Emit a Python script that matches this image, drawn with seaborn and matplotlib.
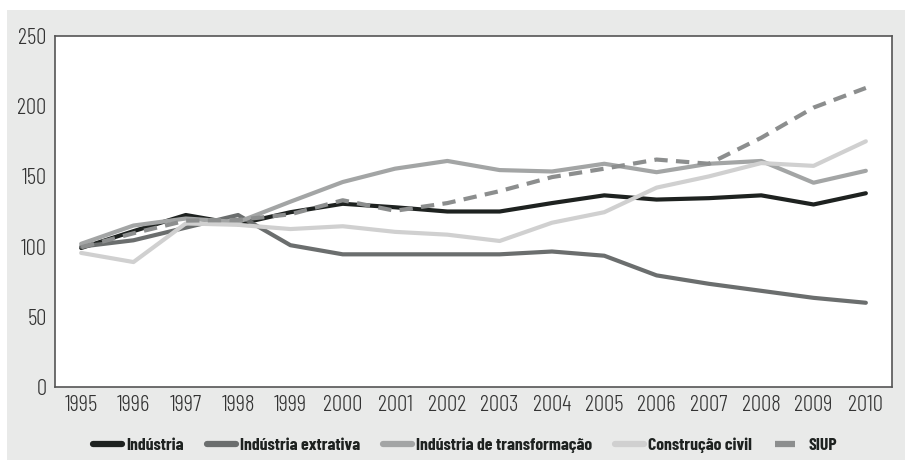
import matplotlib
matplotlib.use("Agg")
import matplotlib.pyplot as plt
from matplotlib import font_manager
from matplotlib.patches import Rectangle
import seaborn as sns
import pandas as pd

anos = list(range(1995, 2011))
industria = [99, 111, 122.5, 116, 124.5, 130.5, 128, 125, 125, 131, 136.5, 133.5, 134.5, 136.5, 130, 138]
extrativa = [100, 104.5, 113.5, 122.5, 101, 94.5, 94.5, 94.5, 94.5, 96.5, 93.5, 79.5, 73.5, 68.5, 63.5, 60]
transformacao = [102, 115, 120, 117.5, 132, 146, 155.5, 161, 154.5, 153.5, 159, 153, 159, 161, 145.5, 154]
construcao = [95.5, 89, 116.5, 115.5, 112.5, 114.5, 110.5, 108.5, 104, 117, 124.5, 142, 150, 159.5, 157.5, 175]
siup = [99.5, 109.5, 118.5, 119, 123, 133, 125.5, 131, 139.5, 149.5, 155.5, 162, 159, 177.5, 199, 213]

series = ["Indústria", "Indústria extrativa", "Indústria de transformação", "Construção civil", "SIUP"]
valores = [industria, extrativa, transformacao, construcao, siup]
yticks = [0, 50, 100, 150, 200, 250]

cores = ["#1e2220", "#6b6e6e", "#a3a5a5", "#d0d0d0", "#8c8e8e"]

names = {f.name for f in font_manager.fontManager.ttflist}
fam = next((f for f in ["Barlow Condensed", "Asap Condensed", "Archivo Narrow"] if f in names), "DejaVu Sans")
leg_size = 12.8

sns.set_theme(style="white")
plt.rcParams["font.family"] = [fam, "DejaVu Sans"]

df = pd.DataFrame({"ano": anos})
for s, v in zip(series, valores):
    df[s] = v
long = df.melt(id_vars="ano", var_name="serie", value_name="valor")

fig = plt.figure(figsize=(9.05, 4.66), dpi=100)
fig.patch.set_facecolor("white")
W, H = 905, 466
fig.patches.append(Rectangle((7 / W, 1 - 460 / H), 1, (460 - 10) / H,
                             transform=fig.transFigure, facecolor="#e9eae9",
                             edgecolor="none", zorder=-10))
ax = fig.add_axes([55 / W, 1 - 387 / H, (892 - 55) / W, (387 - 36) / H])
ax.set_facecolor("white")

dashes = {s: "" for s in series}
dashes["SIUP"] = (3.2, 2.0)
sns.lineplot(data=long, x="ano", y="valor", hue="serie", style="serie",
             hue_order=series, style_order=series,
             palette=dict(zip(series, cores)), dashes=dashes,
             linewidth=3.0, ax=ax, legend=True)

ax.set_xlim(1994.5, 2010.5)
ax.set_ylim(0, 250)
ax.set_xticks(anos)
ax.set_xticklabels([str(a) for a in anos])
ax.set_yticks(yticks)
ax.set_xlabel("")
ax.set_ylabel("")
ax.tick_params(axis="both", length=0, labelsize=16.5, colors="#333333")
ax.tick_params(axis="x", pad=6)
ax.tick_params(axis="y", pad=6)
for lab in ax.get_xticklabels() + ax.get_yticklabels():
    lab.set_fontweight(300)
for sp in ax.spines.values():
    sp.set_visible(True)
    sp.set_color("#555555")
    sp.set_linewidth(1.2)

h, l = ax.get_legend_handles_labels()
ax.get_legend().remove()
for hh in h:
    hh.set_linewidth(4.5)
em = leg_size * 100 / 72.0
leg = fig.legend(h, l, loc="center", bbox_to_anchor=(465 / W, 1 - 445 / H),
                 ncol=5, frameon=False, handlelength=29 / em, handletextpad=4 / em,
                 columnspacing=23 / em,
                 prop={"family": [fam, "DejaVu Sans"], "weight": "bold", "size": leg_size})
for t in leg.get_texts():
    t.set_color("#1e2220")

fig.savefig("out.png", dpi=100, facecolor=fig.get_facecolor())
